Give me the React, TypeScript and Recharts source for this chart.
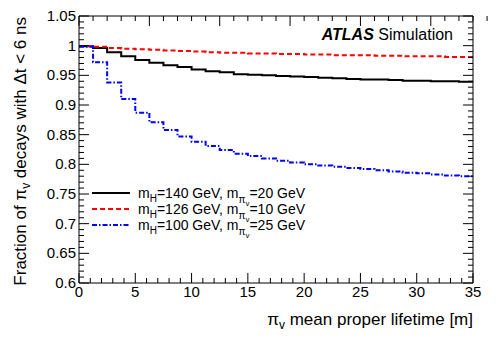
import { LineChart, Line, XAxis, YAxis, Legend } from "recharts"

// step histograms, 28 bins of 1.25 m from 0 to 35 m
const BIN_WIDTH = 1.25

const H140_M20 = [
    0.999, 0.996, 0.989, 0.982, 0.976, 0.971, 0.967, 0.964, 0.960, 0.957,
    0.955, 0.952, 0.951, 0.950, 0.949, 0.948, 0.947, 0.946, 0.945, 0.944,
    0.943, 0.943, 0.942, 0.941, 0.941, 0.940, 0.940, 0.939,
]
const H126_M10 = [
    0.9995, 0.998, 0.996, 0.995, 0.994, 0.993, 0.992, 0.991, 0.990, 0.989,
    0.988, 0.988, 0.987, 0.987, 0.986, 0.986, 0.985, 0.985, 0.984, 0.984,
    0.984, 0.983, 0.983, 0.982, 0.982, 0.982, 0.981, 0.981,
]
const H100_M25 = [
    0.998, 0.972, 0.938, 0.910, 0.887, 0.871, 0.858, 0.847, 0.838, 0.831,
    0.824, 0.818, 0.814, 0.810, 0.806, 0.803, 0.800, 0.798, 0.796, 0.794,
    0.792, 0.790, 0.788, 0.786, 0.785, 0.783, 0.781, 0.780,
]

const X_TICKS = [0, 5, 10, 15, 20, 25, 30, 35]
const Y_TICKS = [0.6, 0.65, 0.7, 0.75, 0.8, 0.85, 0.9, 0.95, 1, 1.05]
const Y_TICK_LABELS = ["0.6", "0.65", "0.7", "0.75", "0.8", "0.85", "0.9", "0.95", "1", "1.05"]

const SERIES = [
    { key: "h140", values: H140_M20, color: "#000000", dash: undefined, width: 2, mH: "140", mPi: "20" },
    { key: "h126", values: H126_M10, color: "#ff0000", dash: "5 3", width: 2, mH: "126", mPi: "10" },
    { key: "h100", values: H100_M25, color: "#0000ff", dash: "5 2 1.5 2", width: 2, mH: "100", mPi: "25" },
]

// one point per lower bin edge, plus the upper edge of the last bin
const nBins = H140_M20.length
const data = Array.from({ length: nBins + 1 }, (_, i) => {
    const row: Record<string, number> = { x: i * BIN_WIDTH }
    SERIES.forEach(s => { row[s.key] = s.values[Math.min(i, nBins - 1)] })
    return row
})

// minor ticks: 5 divisions per major step
const X_MINOR = Array.from({ length: 36 }, (_, i) => i)
const Y_MINOR = Array.from({ length: 46 }, (_, i) => (60 + i) / 100)

const FONT = "'Liberation Sans', Arial, sans-serif"

const isMajorX = (v: number) => X_TICKS.includes(v)
const yMajorIndex = (v: number) => Y_TICKS.findIndex(t => Math.abs(t - v) < 1e-6)

function BottomTick({ x, y, payload }: any) {
    const major = isMajorX(payload.value)
    return (
        <g>
            <line x1={x} x2={x} y1={y} y2={y - (major ? 10 : 5)} stroke="#000" />
            {major && (
                <text x={x} y={y + 14} textAnchor="middle" fontSize={15} fontFamily={FONT} fill="#000">
                    {payload.value}
                </text>
            )}
        </g>
    )
}

function TopTick({ x, y, payload }: any) {
    const major = isMajorX(payload.value)
    return <line x1={x} x2={x} y1={y} y2={y + (major ? 10 : 5)} stroke="#000" />
}

function LeftTick({ x, y, payload }: any) {
    const idx = yMajorIndex(payload.value)
    return (
        <g>
            <line x1={x} x2={x + (idx >= 0 ? 10 : 5)} y1={y} y2={y} stroke="#000" />
            {idx >= 0 && (
                <text x={x - 3} y={y + 5} textAnchor="end" fontSize={15} fontFamily={FONT} fill="#000">
                    {Y_TICK_LABELS[idx]}
                </text>
            )}
        </g>
    )
}

function RightTick({ x, y, payload }: any) {
    const major = yMajorIndex(payload.value) >= 0
    return <line x1={x} x2={x - (major ? 10 : 5)} y1={y} y2={y} stroke="#000" />
}

function LegendBox() {
    return (
        <svg width={230} height={66} style={{ display: "block", overflow: "visible" }}>
            {SERIES.map((s, i) => {
                const y = 13 + i * 16
                return (
                    <g key={s.key}>
                        <line x1={7} x2={45} y1={y} y2={y} stroke={s.color} strokeWidth={s.width} strokeDasharray={s.dash} />
                        <text x={53} y={y + 5} fontSize={14} fontFamily={FONT} fill="#000">
                            m<tspan dy={4} fontSize={10}>H</tspan>
                            <tspan dy={-4}>={s.mH} GeV, m</tspan>
                            <tspan dy={5} fontSize={10}>π</tspan>
                            <tspan dy={3} fontSize={8}>v</tspan>
                            <tspan dy={-8}>={s.mPi} GeV</tspan>
                        </text>
                    </g>
                )
            })}
        </svg>
    )
}

export default function App() {
    return (
        <div style={{ position: "absolute", left: 0, top: 0, width: 498, height: 338, background: "#fff" }}>
            <LineChart width={498} height={338} data={data} margin={{ top: 11, right: 20, bottom: 15, left: 19 }}>
                <XAxis
                    dataKey="x"
                    type="number"
                    domain={[0, 35]}
                    ticks={X_MINOR}
                    interval={0}
                    tickSize={0}
                    tickMargin={0}
                    tickLine={false}
                    tick={BottomTick}
                    height={40}
                    axisLine={{ stroke: "#000" }}
                    allowDataOverflow
                />
                <XAxis
                    xAxisId="top"
                    orientation="top"
                    type="number"
                    domain={[0, 35]}
                    ticks={X_MINOR}
                    interval={0}
                    tickSize={0}
                    tickMargin={0}
                    tickLine={false}
                    tick={TopTick}
                    height={5}
                    axisLine={{ stroke: "#000" }}
                    allowDataOverflow
                />
                <YAxis
                    type="number"
                    domain={[0.6, 1.05]}
                    ticks={Y_MINOR}
                    interval={0}
                    tickSize={0}
                    tickMargin={0}
                    tickLine={false}
                    tick={LeftTick}
                    width={60}
                    axisLine={{ stroke: "#000" }}
                    allowDataOverflow
                />
                <YAxis
                    yAxisId="right"
                    orientation="right"
                    type="number"
                    domain={[0.6, 1.05]}
                    ticks={Y_MINOR}
                    interval={0}
                    tickSize={0}
                    tickMargin={0}
                    tickLine={false}
                    tick={RightTick}
                    width={5}
                    axisLine={{ stroke: "#000" }}
                    allowDataOverflow
                />
                {SERIES.map(s => (
                    <Line
                        key={s.key}
                        dataKey={s.key}
                        type="stepAfter"
                        stroke={s.color}
                        strokeWidth={s.width}
                        strokeDasharray={s.dash}
                        dot={false}
                        activeDot={false}
                        isAnimationActive={false}
                    />
                ))}
                <Legend
                    layout="vertical"
                    align="center"
                    verticalAlign="middle"
                    content={() => <LegendBox />}
                    wrapperStyle={{ left: 85, top: 180, width: 230, height: 66 }}
                />
            </LineChart>
            <svg width={498} height={338} style={{ position: "absolute", left: 0, top: 0, pointerEvents: "none" }}>
                <text x={453} y={40} textAnchor="end" fontSize={16} fontFamily={FONT} fill="#000">
                    <tspan fontWeight="bold" fontStyle="italic">ATLAS</tspan>
                    <tspan> Simulation</tspan>
                </text>
                <text x={473} y={325} textAnchor="end" fontSize={17} fontFamily={FONT} fill="#000">
                    π<tspan dy={4} fontSize={12}>v</tspan>
                    <tspan dy={-4}> mean proper lifetime [m]</tspan>
                </text>
                <text x={26} y={17} textAnchor="end" fontSize={17} fontFamily={FONT} fill="#000" transform="rotate(-90, 26, 17)">
                    Fraction of π<tspan dy={4} fontSize={12}>v</tspan>
                    <tspan dy={-4}> decays with Δt &lt; 6 ns</tspan>
                </text>
            </svg>
        </div>
    )
}
